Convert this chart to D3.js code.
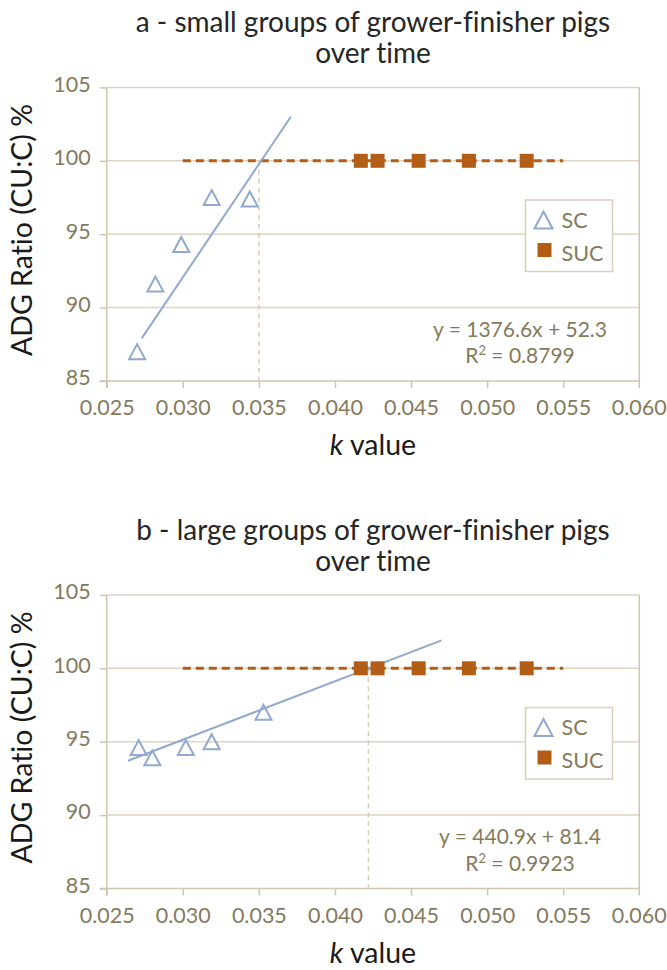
<!DOCTYPE html>
<html>
<head>
<meta charset="utf-8">
<script src="https://cdn.jsdelivr.net/npm/d3@7"></script>
<style>
  body { margin: 0; background: #fff; }
  text { font-family: Lato, "Open Sans", sans-serif; font-variant-ligatures: none; }
  .tick_label { fill: #857a5c; font-size: 21.5px; }
  .title { fill: #262626; font-size: 28px; }
  .axis_label { fill: #1a1a1a; font-size: 28.5px; }
  .legend_label { fill: #857a5c; font-size: 21.5px; }
  .equation { fill: #857a5c; font-size: 21px; }
</style>
</head>
<body>
<div id="chart"></div>
<script>
// ticks
var kTicks = [0.025, 0.030, 0.035, 0.040, 0.045, 0.050, 0.055, 0.060];
var adgTicks = [85, 90, 95, 100, 105];

// panel a - small groups
var scA_k = [0.0270, 0.0282, 0.0299, 0.0319, 0.0344];
var scA_adg = [87.0, 91.6, 94.3, 97.5, 97.4];
var sucA_k = [0.0417, 0.0428, 0.0455, 0.0488, 0.0526];
var sucA_adg = [100, 100, 100, 100, 100];
var trendA_k = [0.0273, 0.0371];
var trendA_adg = [87.9, 103.0];
var crossA_k = 0.035;

// panel b - large groups
var scB_k = [0.0271, 0.0280, 0.0302, 0.0319, 0.0353];
var scB_adg = [94.6, 93.9, 94.6, 95.0, 97.0];
var sucB_k = [0.0417, 0.0428, 0.0455, 0.0488, 0.0526];
var sucB_adg = [100, 100, 100, 100, 100];
var trendB_k = [0.0264, 0.0470];
var trendB_adg = [93.7, 101.9];
var crossB_k = 0.0422;

var sucLine_k = [0.030, 0.055];

var panels = [
  {title: ["a - small groups of grower-finisher pigs", "over time"],
   sc_k: scA_k, sc_adg: scA_adg, suc_k: sucA_k, suc_adg: sucA_adg,
   trend_k: trendA_k, trend_adg: trendA_adg, cross: crossA_k,
   eq: "y = 1376.6x + 52.3", r2: "0.8799"},
  {title: ["b - large groups of grower-finisher pigs", "over time"],
   sc_k: scB_k, sc_adg: scB_adg, suc_k: sucB_k, suc_adg: sucB_adg,
   trend_k: trendB_k, trend_adg: trendB_adg, cross: crossB_k,
   eq: "y = 440.9x + 81.4", r2: "0.9923"}
];

var margin = {top: 87.4, left: 106.7, right: 27.7};
var width = 667 - margin.left - margin.right;
var height = 293.6;
var panelStep = 507.5;

var gridColor = "#dcd5c4";
var axisColor = "#cfc6ae";
var orange = "#b35e16";
var blue = "#91a8cf";

var svg = d3.select("#chart")
            .append("svg")
            .attr("width", 667)
            .attr("height", 970);

var xScale = d3.scaleLinear()
               .domain([0.025, 0.060])
               .range([0, width]);

var yScale = d3.scaleLinear()
               .domain([85, 105])
               .range([height, 0]);

// triangle centred on its bounding box
function triangle(s) {
  return "M0," + (-s / 2) + "L" + (s / 2 + 0.5) + "," + (s / 2) + "L" + (-s / 2 - 0.5) + "," + (s / 2) + "Z";
}

panels.forEach(function(p, i) {
  var top = i * panelStep;

  //Title
  svg.append("text")
     .attr("class", "title")
     .attr("x", margin.left + width / 2)
     .attr("y", top + 32)
     .attr("text-anchor", "middle")
     .text(p.title[0]);

  svg.append("text")
     .attr("class", "title")
     .attr("x", margin.left + width / 2)
     .attr("y", top + 63)
     .attr("text-anchor", "middle")
     .text(p.title[1]);

  var g = svg.append("g")
             .attr("transform", "translate(" + margin.left + "," + (top + margin.top) + ")");

  //Grid lines
  g.selectAll(".grid")
   .data(adgTicks.slice(1))
   .enter().append("line")
   .attr("x1", 0)
   .attr("x2", width)
   .attr("y1", function(d) { return yScale(d); })
   .attr("y2", function(d) { return yScale(d); })
   .attr("stroke", gridColor)
   .attr("stroke-width", 1.5);

  //right border
  g.append("line")
   .attr("x1", xScale(0.060)).attr("x2", xScale(0.060))
   .attr("y1", 0).attr("y2", height + 7)
   .attr("stroke", axisColor)
   .attr("stroke-width", 1.5);

  //Y axis
  var yAxis = d3.axisLeft(yScale)
                .tickValues(adgTicks)
                .tickSize(7)
                .tickPadding(9)
                .tickFormat(d3.format("d"));

  var ya = g.append("g").call(yAxis);
  ya.select(".domain").attr("stroke", axisColor).attr("stroke-width", 1.5)
    .attr("d", "M0,0V" + (height + 7));
  ya.selectAll(".tick line").attr("stroke", axisColor).attr("stroke-width", 1.5);
  ya.selectAll(".tick text").attr("class", "tick_label").attr("dy", "0.18em")
    .attr("font-size", null).attr("font-family", null);

  //X axis
  var xAxis = d3.axisBottom(xScale)
                .tickValues(kTicks.slice(0, -1))
                .tickSize(7)
                .tickPadding(9)
                .tickFormat(d3.format(".3f"));

  var xa = g.append("g")
            .attr("transform", "translate(0," + height + ")")
            .call(xAxis);
  xa.select(".domain").attr("stroke", axisColor).attr("stroke-width", 1.5)
    .attr("d", "M-7,0H" + width);
  xa.selectAll(".tick line").attr("stroke", axisColor).attr("stroke-width", 1.5);
  xa.selectAll(".tick text").attr("class", "tick_label").attr("dy", "0.85em")
    .attr("font-size", null).attr("font-family", null);

  //last x tick label (0.060), placed by the scale
  g.append("text")
   .attr("class", "tick_label")
   .attr("x", xScale(kTicks[kTicks.length - 1]))
   .attr("y", height + 34.3)
   .attr("text-anchor", "middle")
   .text(d3.format(".3f")(kTicks[kTicks.length - 1]));

  //vertical dashed drop line at the crossing
  g.append("line")
   .attr("x1", xScale(p.cross)).attr("x2", xScale(p.cross))
   .attr("y1", yScale(100)).attr("y2", height)
   .attr("stroke", "#d8cdb6")
   .attr("stroke-width", 1.5)
   .attr("stroke-dasharray", "5,4");

  //SUC dashed line
  g.append("line")
   .attr("x1", xScale(sucLine_k[0])).attr("x2", xScale(sucLine_k[1]))
   .attr("y1", yScale(100)).attr("y2", yScale(100))
   .attr("stroke", orange)
   .attr("stroke-width", 3)
   .attr("stroke-dasharray", "8,5");

  //SC trend line
  g.append("line")
   .attr("x1", xScale(p.trend_k[0])).attr("x2", xScale(p.trend_k[1]))
   .attr("y1", yScale(p.trend_adg[0])).attr("y2", yScale(p.trend_adg[1]))
   .attr("stroke", blue)
   .attr("stroke-width", 2);

  //SUC squares
  g.selectAll(".suc")
   .data(p.suc_k)
   .enter().append("rect")
   .attr("x", function(d) { return xScale(d) - 7; })
   .attr("y", function(d, j) { return yScale(p.suc_adg[j]) - 7; })
   .attr("width", 14)
   .attr("height", 14)
   .attr("fill", orange);

  //SC triangles
  g.selectAll(".sc")
   .data(p.sc_k)
   .enter().append("path")
   .attr("d", triangle(15))
   .attr("transform", function(d, j) {
     return "translate(" + xScale(d) + "," + yScale(p.sc_adg[j]) + ")";
   })
   .attr("fill", "none")
   .attr("stroke", blue)
   .attr("stroke-width", 2);

  //Legend
  var lg = g.append("g")
            .attr("transform", "translate(" + (525.5 - margin.left) + "," + (200 - margin.top) + ")");
  lg.append("rect")
    .attr("width", 87)
    .attr("height", 71.5)
    .attr("fill", "#fff")
    .attr("stroke", "#d8d0bd")
    .attr("stroke-width", 1.5);
  lg.append("path")
    .attr("d", triangle(17))
    .attr("transform", "translate(18,20)")
    .attr("fill", "none")
    .attr("stroke", blue)
    .attr("stroke-width", 2);
  lg.append("rect")
    .attr("x", 12).attr("y", 43)
    .attr("width", 14).attr("height", 14)
    .attr("fill", orange);
  lg.append("text").attr("class", "legend_label").attr("x", 36).attr("y", 27.5).text("SC");
  lg.append("text").attr("class", "legend_label").attr("x", 36).attr("y", 60.5).text("SUC");

  //Equation
  g.append("text")
   .attr("class", "equation")
   .attr("x", 520 - margin.left)
   .attr("y", 337 - margin.top)
   .attr("text-anchor", "middle")
   .text(p.eq);

  var r2 = g.append("text")
            .attr("class", "equation")
            .attr("x", 520 - margin.left)
            .attr("y", 363.5 - margin.top)
            .attr("text-anchor", "middle");
  r2.append("tspan").text("R");
  r2.append("tspan").attr("font-size", "13px").attr("dy", "-8").text("2");
  r2.append("tspan").attr("dy", "8").text(" = " + p.r2);

  //Y axis label
  svg.append("text")
     .attr("class", "axis_label")
     .attr("transform", "translate(32," + (top + 230) + ") rotate(270)")
     .attr("text-anchor", "middle")
     .text("ADG Ratio (CU:C) %");

  //X axis label
  var xl = svg.append("text")
              .attr("class", "axis_label")
              .attr("x", margin.left + width / 2)
              .attr("y", top + 455)
              .attr("text-anchor", "middle");
  xl.append("tspan").attr("font-style", "italic").text("k");
  xl.append("tspan").text(" value");
});
</script>
</body>
</html>
